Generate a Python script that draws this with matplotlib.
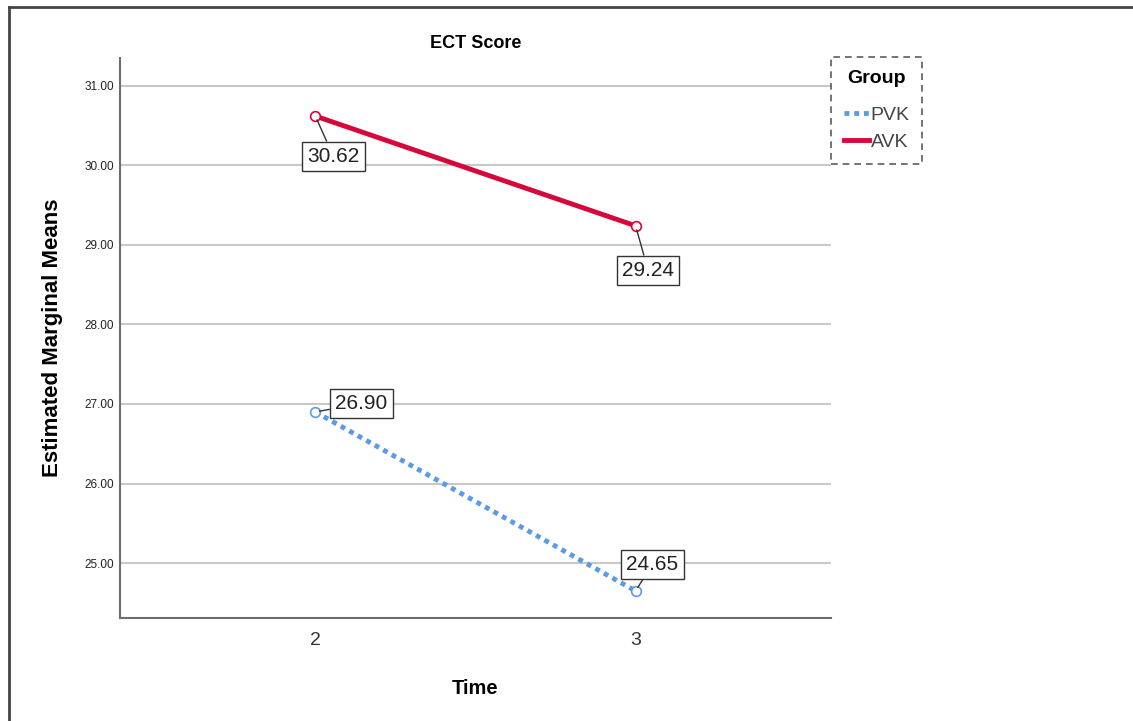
import matplotlib.pyplot as plt
from matplotlib.lines import Line2D

# data
times = [2, 3]
groups = ['PVK', 'AVK']
pvk_means = [26.90, 24.65]
avk_means = [30.62, 29.24]
yticks = [25, 26, 27, 28, 29, 30, 31]

plt.rcParams['font.family'] = ['Liberation Sans', 'DejaVu Sans']

fig = plt.figure(figsize=(11.33, 7.21), dpi=100)
ax = fig.add_axes([0.1059, 0.1429, 0.6275, 0.7767])

blue = '#5b9be6'
red = '#d6083b'

ax.plot(times, pvk_means, color=blue, linestyle=(0, (1, 1)), linewidth=3.5, zorder=3)
ax.plot(times, pvk_means, color=blue, linestyle='none', marker='o', markersize=7,
        markerfacecolor='white', markeredgewidth=1.2, zorder=4)
ax.plot(times, avk_means, color=red, linestyle='-', linewidth=3.5, zorder=3)
ax.plot(times, avk_means, color=red, linestyle='none', marker='o', markersize=7,
        markerfacecolor='white', markeredgewidth=1.2, zorder=4)

# label offsets (points) for each point
offsets_pvk = [(33, 6), (12, 19)]
offsets_avk = [(13, -29), (9, -32)]
box = dict(boxstyle='square,pad=0.25', fc='white', ec='#333333', lw=1)
for x, y, off in zip(times, pvk_means, offsets_pvk):
    ax.annotate('{:.2f}'.format(y), (x, y), xytext=off, textcoords='offset points',
                ha='center', va='center', fontsize=15, color='#222222', bbox=box,
                arrowprops=dict(arrowstyle='-', color='#333333', lw=1, shrinkA=0, shrinkB=3),
                zorder=5)
for x, y, off in zip(times, avk_means, offsets_avk):
    ax.annotate('{:.2f}'.format(y), (x, y), xytext=off, textcoords='offset points',
                ha='center', va='center', fontsize=15, color='#222222', bbox=box,
                arrowprops=dict(arrowstyle='-', color='#333333', lw=1, shrinkA=0, shrinkB=3),
                zorder=5)

ax.set_xlim(1.39, 3.61)
ax.set_ylim(24.31, 31.35)
ax.set_xticks(times)
ax.set_xticklabels([str(t) for t in times], fontsize=14, color='#333333')
ax.set_yticks(yticks)
ax.set_yticklabels(['{:.2f}'.format(v) for v in yticks], fontsize=8.5, color='#222222')
ax.tick_params(length=0, pad=4)
ax.tick_params(axis='x', pad=10)
ax.grid(axis='y', color='#c8c8c8', linewidth=1.5, zorder=0)
ax.set_axisbelow(True)
for s in ['top', 'right']:
    ax.spines[s].set_visible(False)
for s in ['left', 'bottom']:
    ax.spines[s].set_color('#6e6e6e')
    ax.spines[s].set_linewidth(1.5)

ax.set_title('ECT Score', fontsize=13, fontweight='bold', pad=7)
ax.set_xlabel('Time', fontsize=14.5, fontweight='bold', labelpad=22)
ax.set_ylabel('Estimated Marginal Means', fontsize=16, fontweight='bold', labelpad=16)

handles = [Line2D([], [], color=blue, linestyle=(0, (1, 1)), lw=3.5),
           Line2D([], [], color=red, linestyle='-', lw=3.5)]
leg = fig.legend(handles, groups, loc='upper left', bbox_to_anchor=(831 / 1133, 1 - 57 / 721),
                 title='Group', fontsize=14, title_fontproperties={'weight': 'bold', 'size': 14},
                 frameon=True, fancybox=False, handlelength=1.3, handletextpad=0.1,
                 borderpad=0.65, borderaxespad=0, labelspacing=0.5)
leg._legend_box.sep = 14  # extra room under the title
leg.get_frame().set_linestyle((0, (4, 3)))
leg.get_frame().set_edgecolor('#333333')
leg.get_frame().set_linewidth(1.2)
for t in leg.get_texts():
    t.set_color('#444444')

# outer frame
fig.add_artist(Line2D([9 / 1133, 1], [1 - 7 / 721, 1 - 7 / 721], color='#444444', lw=2))
fig.add_artist(Line2D([9 / 1133, 9 / 1133], [0, 1 - 7 / 721], color='#444444', lw=2))

plt.savefig('out.png', dpi=100)
